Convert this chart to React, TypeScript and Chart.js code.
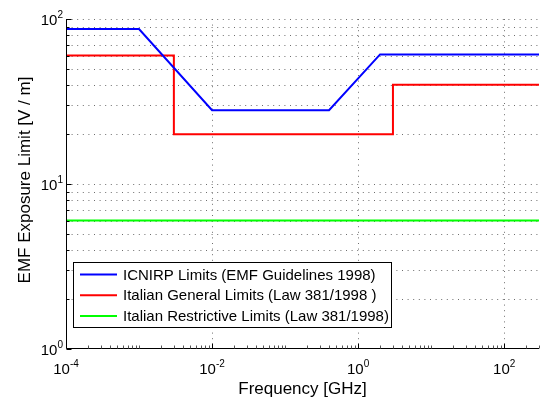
import React, { useEffect, useRef } from "react";
import { Chart, registerables } from "chart.js";

Chart.register(...registerables);

// ---- data ----
const icnirpFreq = [1e-4, 1e-3, 1e-2, 0.4, 2, 300];
const icnirpLimit = [87, 87, 28, 28, 61, 61];
const generalFreq = [1e-4, 3e-3, 3e-3, 3, 3, 300];
const generalLimit = [60, 60, 20, 20, 40, 40];
const restrictFreq = [1e-4, 300];
const restrictLimit = [6, 6];

const seriesLabels = [
  "ICNIRP Limits (EMF Guidelines 1998)",
  "Italian General Limits (Law 381/1998 )",
  "Italian Restrictive Limits (Law 381/1998)",
];
const seriesColors = ["#0000ff", "#ff0000", "#00ff00"];

const xTickValues = [1e-4, 1e-2, 1, 100];
const xTickExponents = ["-4", "-2", "0", "2"];
const yTickValues = [1, 10, 100];
const yTickExponents = ["0", "1", "2"];

const xTitle = "Frequency [GHz]";
const yTitle = "EMF Exposure Limit [V / m]";

const FONT = "'Liberation Sans', Arial, Helvetica, sans-serif";

function toPoints(xs: number[], ys: number[]) {
  return xs.map((x, i) => ({ x, y: ys[i] }));
}

const matlabPlugin = {
  id: "matlabAxes",
  beforeDatasetsDraw(chart: any) {
    const { ctx, chartArea: a, scales } = chart;
    const x = scales.x;
    const y = scales.y;
    ctx.save();
    ctx.lineWidth = 1;
    ctx.strokeStyle = "#6e6e6e";
    ctx.setLineDash([1, 4.6]);
    for (let d = 0; d <= 2; d++) {
      for (let k = 1; k <= 9; k++) {
        const v = k * Math.pow(10, d);
        if (v > 100 || v <= 1) continue;
        const py = Math.round(y.getPixelForValue(v)) + 0.5;
        ctx.beginPath();
        ctx.moveTo(a.left, py);
        ctx.lineTo(a.right, py);
        ctx.stroke();
      }
    }
    for (const v of xTickValues) {
      if (v <= 1e-4) continue;
      const px = Math.round(x.getPixelForValue(v)) + 0.5;
      ctx.beginPath();
      ctx.moveTo(px, a.top);
      ctx.lineTo(px, a.bottom);
      ctx.stroke();
    }
    ctx.restore();
  },
  afterDatasetsDraw(chart: any) {
    const { ctx, chartArea: a, scales } = chart;
    const x = scales.x;
    const y = scales.y;
    ctx.save();
    ctx.setLineDash([]);
    ctx.strokeStyle = "#000";
    ctx.lineWidth = 1;
    const lx = Math.round(a.left) + 0.5;
    const by = Math.round(a.bottom) - 0.5;
    ctx.beginPath();
    ctx.moveTo(lx, a.top);
    ctx.lineTo(lx, by);
    ctx.lineTo(a.right, by);
    ctx.stroke();
    for (let d = 0; d <= 2; d++) {
      for (let k = 1; k <= 9; k++) {
        const v = k * Math.pow(10, d);
        if (v > 100) continue;
        const py = Math.round(y.getPixelForValue(v)) + 0.5;
        const len = k === 1 ? 5 : 3;
        ctx.beginPath();
        ctx.moveTo(lx, py);
        ctx.lineTo(lx + len, py);
        ctx.stroke();
      }
    }
    for (let d = -4; d <= 2; d++) {
      for (let k = 1; k <= 9; k++) {
        const v = k * Math.pow(10, d);
        if (v > 300) continue;
        const px = Math.round(x.getPixelForValue(v)) + 0.5;
        const major = xTickValues.some((t) => Math.abs(t - v) / v < 1e-9);
        const len = major ? 5 : 3;
        ctx.strokeStyle = major ? "#000" : "#555";
        ctx.beginPath();
        ctx.moveTo(px, by);
        ctx.lineTo(px, by - len);
        ctx.stroke();
      }
    }
    ctx.strokeStyle = "#000";

    const baseFont = `15px ${FONT}`;
    const expFont = `10px ${FONT}`;
    ctx.fillStyle = "#000";
    ctx.textBaseline = "alphabetic";
    ctx.textAlign = "left";
    xTickValues.forEach((v, i) => {
      const px = x.getPixelForValue(v);
      ctx.font = baseFont;
      const wb = ctx.measureText("10").width;
      ctx.font = expFont;
      const we = ctx.measureText(xTickExponents[i]).width;
      const start = px - (wb + we) / 2;
      ctx.font = baseFont;
      ctx.fillText("10", start, a.bottom + 25);
      ctx.font = expFont;
      ctx.fillText(xTickExponents[i], start + wb, a.bottom + 18);
    });
    yTickValues.forEach((v, i) => {
      const py = y.getPixelForValue(v);
      ctx.font = expFont;
      const we = ctx.measureText(yTickExponents[i]).width;
      ctx.font = baseFont;
      const wb = ctx.measureText("10").width;
      const right = a.left - 3;
      ctx.fillText("10", right - we - wb, py + 6);
      ctx.font = expFont;
      ctx.fillText(yTickExponents[i], right - we, py - 1);
    });

    const titleFont = `17px ${FONT}`;
    ctx.font = titleFont;
    ctx.textAlign = "center";
    ctx.fillText(xTitle, (a.left + a.right) / 2, a.bottom + 45);
    ctx.save();
    ctx.translate(30, 180);
    ctx.rotate(-Math.PI / 2);
    ctx.fillText(yTitle, 0, 0);
    ctx.restore();

    const bx = 73.5, byy = 262.5, bw = 318, bh = 65;
    ctx.fillStyle = "#fff";
    ctx.fillRect(bx, byy, bw, bh);
    ctx.strokeStyle = "#000";
    ctx.lineWidth = 1;
    ctx.strokeRect(bx, byy, bw, bh);
    ctx.font = `15px ${FONT}`;
    ctx.textAlign = "left";
    ctx.textBaseline = "middle";
    chart.data.datasets.forEach((ds: any, i: number) => {
      const ry = 274.5 + i * 20.7;
      ctx.strokeStyle = ds.borderColor;
      ctx.lineWidth = 2;
      ctx.beginPath();
      ctx.moveTo(80, ry);
      ctx.lineTo(117, ry);
      ctx.stroke();
      ctx.fillStyle = "#000";
      ctx.fillText(ds.label, 123, ry + 1);
    });
    ctx.restore();
  },
};

export default function App() {
  const ref = useRef<HTMLCanvasElement | null>(null);
  useEffect(() => {
    document.body.style.margin = "0";
    const canvas = ref.current;
    if (!canvas) return;
    const chart = new Chart(canvas, {
      type: "line",
      data: {
        datasets: [
          {
            label: seriesLabels[0],
            data: toPoints(icnirpFreq, icnirpLimit),
            borderColor: seriesColors[0],
          },
          {
            label: seriesLabels[1],
            data: toPoints(generalFreq, generalLimit),
            borderColor: seriesColors[1],
          },
          {
            label: seriesLabels[2],
            data: toPoints(restrictFreq, restrictLimit),
            borderColor: seriesColors[2],
          },
        ].map((d) => ({
          ...d,
          borderWidth: 2,
          pointRadius: 0,
          tension: 0,
          fill: false,
        })),
      },
      options: {
        animation: false,
        responsive: false,
        devicePixelRatio: 1,
        layout: { padding: { left: 66, top: 19, right: 5, bottom: 50 } },
        plugins: { legend: { display: false }, tooltip: { enabled: false } },
        scales: {
          x: {
            type: "logarithmic",
            min: 1e-4,
            max: 300,
            display: false,
          },
          y: {
            type: "logarithmic",
            min: 1,
            max: 100,
            display: false,
          },
        },
      },
      plugins: [matlabPlugin],
    });
    return () => chart.destroy();
  }, []);
  return (
    <div style={{ position: "fixed", left: 0, top: 0, width: 544, height: 399, background: "#fff" }}>
      <canvas ref={ref} width={544} height={399} style={{ display: "block", width: 544, height: 399 }} />
    </div>
  );
}
